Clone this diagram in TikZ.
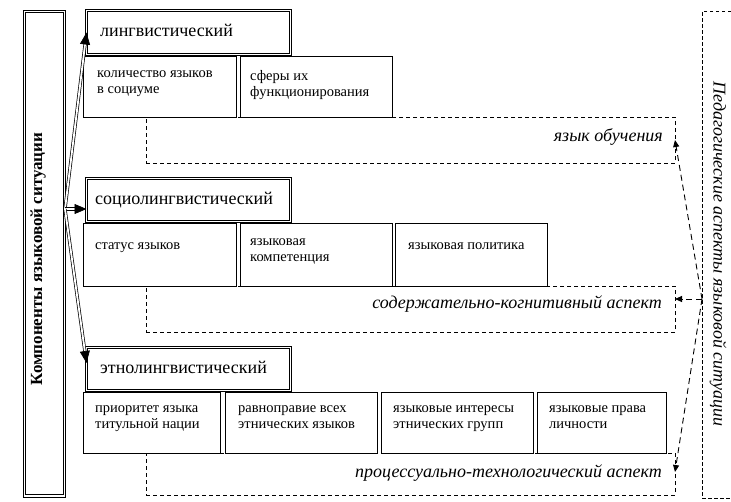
\documentclass[tikz,border=0pt]{standalone}
\usepackage{fontspec}
\setmainfont{Liberation Serif}
\usetikzlibrary{arrows.meta,calc}
\begin{document}
\begin{tikzpicture}[x=1pt,y=-1pt,
  hdrbox/.style={draw, double, double distance=1.8pt, line width=0.9pt, inner sep=0pt, outer sep=0pt, anchor=north west},
  subbox/.style={draw, line width=0.9pt, inner sep=0pt, outer sep=0pt, anchor=north west},
  dashbox/.style={draw, line width=0.8pt, dash pattern=on 4pt off 3pt, inner sep=0pt, outer sep=0pt, anchor=north west},
  rbox/.style={draw, line width=0.8pt, dash pattern=on 3.5pt off 2.5pt, inner sep=0pt, outer sep=0pt, anchor=north west},
  subtxt/.style={font=\fontsize{14.5}{16.5}\selectfont, align=left, inner sep=0pt, anchor=north west, execute at begin node=\strut},
  hdrtxt/.style={font=\fontsize{18}{21}\selectfont, inner sep=0pt, anchor=base west},
  asptxt/.style={font=\fontsize{18}{21}\selectfont\itshape, inner sep=0pt, anchor=base east},
  dblarrow/.style={double, double distance=1.8pt, line width=0.7pt, shorten >=10pt},
  tiparrow/.style={-{Triangle[length=12pt,width=10pt]}, line width=0.7pt},
  dasharrow/.style={line width=0.9pt, dash pattern=on 6pt off 4pt, -{Triangle[length=7pt,width=6pt]}}
]
\useasboundingbox (0,0) rectangle (731,501);

% dashed aspect boxes
\node[dashbox, minimum width=529pt, minimum height=46pt] (d1) at (146,117) {};
\node[dashbox, minimum width=529pt, minimum height=46pt] (d2) at (146,286) {};
\node[dashbox, minimum width=529pt, minimum height=42pt] (d3) at (146,453) {};
\node[rbox, minimum width=50pt, minimum height=487pt] (R) at (702,11) {};

% left box
\node[hdrbox, minimum width=40pt, minimum height=484.5pt] (L) at (24.5,11.5) {};
\node[font=\fontsize{17}{20}\selectfont\bfseries, rotate=90, inner sep=0pt] (Ltxt) at (38,259) {Компоненты языковой ситуации};

% right text
\node[font=\fontsize{18}{21}\selectfont\itshape, rotate=-90, inner sep=0pt] (Rtxt) at (718,254) {Педагогические аспекты языковой ситуации};

% headers
\node[hdrbox, minimum width=204pt, minimum height=44pt] (h1) at (86.5,10.5) {};
\node[hdrbox, minimum width=204pt, minimum height=43pt] (h2) at (86.5,178.5) {};
\node[hdrbox, minimum width=204pt, minimum height=43pt] (h3) at (86.5,347.5) {};
\node[hdrtxt] (h1t) at (100,36) {лингвистический};
\node[hdrtxt] (h2t) at (95,204) {социолингвистический};
\node[hdrtxt] (h3t) at (100,373) {этнолингвистический};

% sub boxes row 1
\node[subbox, minimum width=153pt, minimum height=61pt] (b11) at (83,56) {};
\node[subbox, minimum width=152pt, minimum height=61pt] (b12) at (240,56) {};
% row 2
\node[subbox, minimum width=153pt, minimum height=63pt] (b21) at (83,223) {};
\node[subbox, minimum width=152pt, minimum height=63pt] (b22) at (240,223) {};
\node[subbox, minimum width=152pt, minimum height=63pt] (b23) at (395,223) {};
% row 3
\node[subbox, minimum width=137pt, minimum height=61pt] (b31) at (83,392) {};
\node[subbox, minimum width=152pt, minimum height=61pt] (b32) at (225,392) {};
\node[subbox, minimum width=152pt, minimum height=61pt] (b33) at (381,392) {};
\node[subbox, minimum width=129pt, minimum height=61pt] (b34) at (537,392) {};

\node[subtxt] (t11) at (97,70) {количество языков\\в социуме};
\node[subtxt] (t12) at (250,70) {сферы их\\функционирования};
\node[subtxt] (t21) at (95,238) {статус языков};
\node[subtxt] (t22) at (250,238) {языковая\\компетенция};
\node[subtxt] (t23) at (408,238) {языковая политика};
\node[subtxt] (t31) at (95,405) {приоритет языка\\титульной нации};
\node[subtxt] (t32) at (238,405) {равноправие всех\\этнических языков};
\node[subtxt] (t33) at (393,405) {языковые интересы\\этнических групп};
\node[subtxt] (t34) at (549,405) {языковые права\\личности};

% aspect texts
\node[asptxt] (a1) at (663,141) {язык обучения};
\node[asptxt] (a2) at (662,308) {содержательно-когнитивный аспект};
\node[asptxt] (a3) at (662,477) {процессуально-технологический аспект};

% arrows from left box
\coordinate (O) at (65,209);
\coordinate (e1) at (h1.west);
\coordinate (e2) at ($(h2.west)+(0,9)$);
\coordinate (e3) at ($(h3.west)+(0,-6)$);
\foreach \e in {e1,e2,e3}{
  \draw[dblarrow] (O) -- (\e);
  \draw[tiparrow] ($(\e)!12pt!(O)$) -- (\e);
}

% dashed arrows from right box
\coordinate (J) at (702,299);
\draw[dasharrow] (J) -- (d1.east);
\draw[dasharrow] (J) -- ($(d2.east)+(0,-10)$);
\draw[dasharrow] (J) -- ($(d3.east)+(0,-2)$);
\end{tikzpicture}
\end{document}
